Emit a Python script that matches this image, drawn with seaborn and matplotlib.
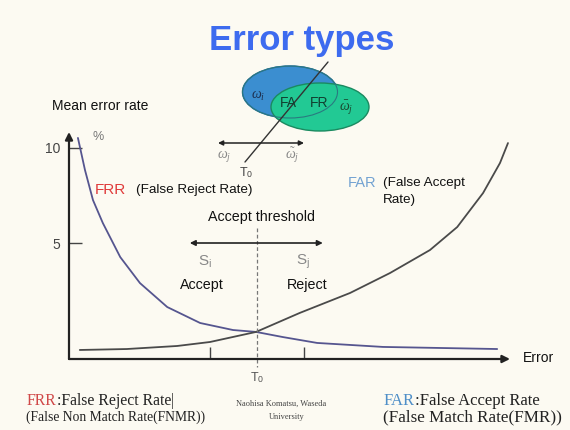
import numpy as np
import pandas as pd
import matplotlib
matplotlib.use("Agg")
import matplotlib.pyplot as plt
import seaborn as sns
from matplotlib.patches import Ellipse

# ---- data ----
frr_threshold = [1.19, 1.34, 1.51, 1.72, 2.09, 2.51, 3.09, 3.79, 4.49, 4.98, 5.55, 6.28, 7.68, 10.11]
frr_rate = [10.53, 8.84, 7.26, 6.05, 4.26, 2.89, 1.63, 0.79, 0.42, 0.32, 0.05, -0.26, -0.47, -0.58]
far_threshold = [1.23, 2.23, 3.30, 4.00, 4.98, 5.91, 6.98, 7.83, 8.68, 9.26, 9.81, 10.17, 10.34]
far_rate = [-0.63, -0.58, -0.42, -0.21, 0.32, 1.32, 2.37, 3.42, 4.63, 5.84, 7.63, 9.21, 10.26]
y_ticks = [5, 10]
y_tick_labels = ["5", "10"]
x_ticks = [4, 6]
threshold_T0 = 5

frr_df = pd.DataFrame({"threshold": frr_threshold, "rate": frr_rate})
far_df = pd.DataFrame({"threshold": far_threshold, "rate": far_rate})

sns.set_style("white")
plt.rcParams["font.family"] = ["Liberation Sans", "DejaVu Sans"]
plt.rcParams["mathtext.fontset"] = "custom"
plt.rcParams["mathtext.rm"] = "Liberation Serif"
plt.rcParams["mathtext.it"] = "Liberation Serif:italic"

BG = "#fcfaf2"
W, H = 570, 430
fig = plt.figure(figsize=(5.7, 4.3), dpi=100, facecolor=BG)

# main chart axes
ax = fig.add_axes([69 / W, (H - 359) / H, (510 - 69) / W, (359 - 132) / H])
ax.set_facecolor("none")
sns.lineplot(data=frr_df, x="threshold", y="rate", ax=ax, color="#55558f",
             lw=1.3, sort=False, estimator=None)
sns.lineplot(data=far_df, x="threshold", y="rate", ax=ax, color="#4a4a4a",
             lw=1.3, sort=False, estimator=None)
ax.set_xlim(1.0, 10.383)
ax.set_ylim(-1.105, 10.842)
for s in ax.spines.values():
    s.set_visible(False)
ax.set_xlabel("")
ax.set_ylabel("")
ax.set_yticks(y_ticks, labels=y_tick_labels)
ax.set_xticks(x_ticks, labels=[""] * len(x_ticks))
ax.tick_params(axis="y", direction="in", length=9, width=1, color="#444444",
               labelsize=10, labelcolor="#444444", pad=6, left=True)
ax.tick_params(axis="x", direction="in", length=9, width=1, color="#444444",
               bottom=True)
ax.annotate("", xy=(0, 1), xytext=(0, 0), xycoords="axes fraction",
            arrowprops=dict(arrowstyle="-|>", lw=1.6, color="#222222",
                            mutation_scale=11, shrinkA=0, shrinkB=0))
ax.annotate("", xy=(1, 0), xytext=(0, 0), xycoords="axes fraction",
            arrowprops=dict(arrowstyle="-|>", lw=1.6, color="#222222",
                            mutation_scale=11, shrinkA=0, shrinkB=0))
# threshold dashed line and accept/reject arrow
ax.plot([threshold_T0, threshold_T0], [5.79, -1.55], ls=(0, (3, 2)), lw=0.9,
        color="#777777", clip_on=False)
ax.annotate("", xy=(3.57, 5.0), xytext=(6.40, 5.0), xycoords="data",
            arrowprops=dict(arrowstyle="<|-|>", lw=1.2, color="#222222",
                            mutation_scale=8, shrinkA=0, shrinkB=0))

# overlay axes in pixel coordinates for the diagram / text
ov = fig.add_axes([0, 0, 1, 1], zorder=5)
ov.set_facecolor("none")
ov.set_xlim(0, W)
ov.set_ylim(H, 0)
ov.axis("off")

ov.text(302, 50, "Error types", fontsize=25, fontweight="bold", color="#3d6bef",
        ha="center", va="baseline")
ov.text(52, 110, "Mean error rate", fontsize=10, color="#111111", va="baseline")
ov.text(98, 137, "%", fontsize=9, color="#777777", ha="center", va="center")

# Venn diagram
ov.add_patch(Ellipse((290, 92), 95, 52, facecolor="#3b8ed0", edgecolor="#2a6aa8", lw=1))
ov.add_patch(Ellipse((320, 107), 98, 48, facecolor="#22c994", edgecolor="#1a8a60", lw=1))
ov.add_patch(Ellipse((290, 92), 95, 52, facecolor="none", edgecolor="#2a7a80", lw=0.8))
ov.plot([245, 328], [162, 62], color="#333333", lw=1)
ov.text(258, 96, r"$\omega_i$", fontsize=10, color="#1d3050", ha="center", va="center")
ov.text(288, 103, "FA", fontsize=10, color="#114030", ha="center", va="center")
ov.text(319, 103, "FR", fontsize=10, color="#114030", ha="center", va="center")
ov.text(346, 108, r"$\bar{\omega}_j$", fontsize=10, color="#1a4a30", ha="center", va="center")
ov.annotate("", xy=(218, 143), xytext=(304, 143), xycoords="data",
            arrowprops=dict(arrowstyle="<|-|>", lw=1.1, color="#222222",
                            mutation_scale=7, shrinkA=0, shrinkB=0))
ov.text(224, 156, r"$\omega_j$", fontsize=10, color="#888888", ha="center", va="center")
ov.text(292, 155, r"$\tilde{\omega}_j$", fontsize=10, color="#888888", ha="center", va="center")
ov.text(246, 173, r"T$_{\mathregular{0}}$", fontsize=9, color="#444444", ha="center", va="center")

# curve labels
ov.text(95, 190, "FRR", fontsize=11, color="#e03a3a", va="center")
ov.text(136, 190, "(False Reject Rate)", fontsize=9.7, color="#111111", va="center")
ov.text(348, 183, "FAR", fontsize=10.5, color="#72a2d2", va="center")
ov.text(383, 183, "(False Accept", fontsize=9.7, color="#111111", va="center")
ov.text(383, 200, "Rate)", fontsize=9.7, color="#111111", va="center")

ov.text(261, 217, "Accept threshold", fontsize=10.3, color="#111111", ha="center", va="center")
ov.text(205, 262, r"S$_{\mathregular{i}}$", fontsize=11, color="#888888", ha="center", va="center")
ov.text(303, 262, r"S$_{\mathregular{j}}$", fontsize=11, color="#888888", ha="center", va="center")
ov.text(202, 285, "Accept", fontsize=10.3, color="#111111", ha="center", va="center")
ov.text(307, 285, "Reject", fontsize=10.3, color="#111111", ha="center", va="center")
ov.text(538, 358, "Error", fontsize=10, color="#111111", ha="center", va="center")
ov.text(257, 378, r"T$_{\mathregular{0}}$", fontsize=9, color="#555555", ha="center", va="center")

# footer (serif)
serif = ["Liberation Serif", "DejaVu Serif"]
t1 = ov.text(27, 405, "FRR", fontsize=11.3, color="#d04848", family=serif, va="baseline")
a1 = ov.annotate(":False Reject Rate", xy=(1, 0), xycoords=t1, fontsize=11.3, color="#222222",
                 family=serif, va="bottom", ha="left")
ov.annotate("|", xy=(1, 0), xycoords=a1, fontsize=11.3, color="#333333",
            family=serif, va="bottom", ha="left")
ov.text(26, 421, "(False Non Match Rate(FNMR))", fontsize=9.8, color="#222222",
        family=serif, va="baseline")
ov.text(281, 406, "Naohisa Komatsu, Waseda", fontsize=6, color="#444444", family=serif,
        ha="center", va="baseline")
ov.text(287, 419, "University", fontsize=6, color="#444444", family=serif,
        ha="center", va="baseline")
t2 = ov.text(384, 405, "FAR", fontsize=12, color="#4f8fc8", family=serif, va="baseline")
ov.annotate(":False Accept Rate", xy=(1, 0), xycoords=t2, fontsize=12, color="#222222",
            family=serif, va="bottom", ha="left")
ov.text(383, 421, "(False Match Rate(FMR))", fontsize=12.3, color="#222222",
        family=serif, va="baseline")

fig.savefig("out.png", dpi=100, facecolor=BG)
